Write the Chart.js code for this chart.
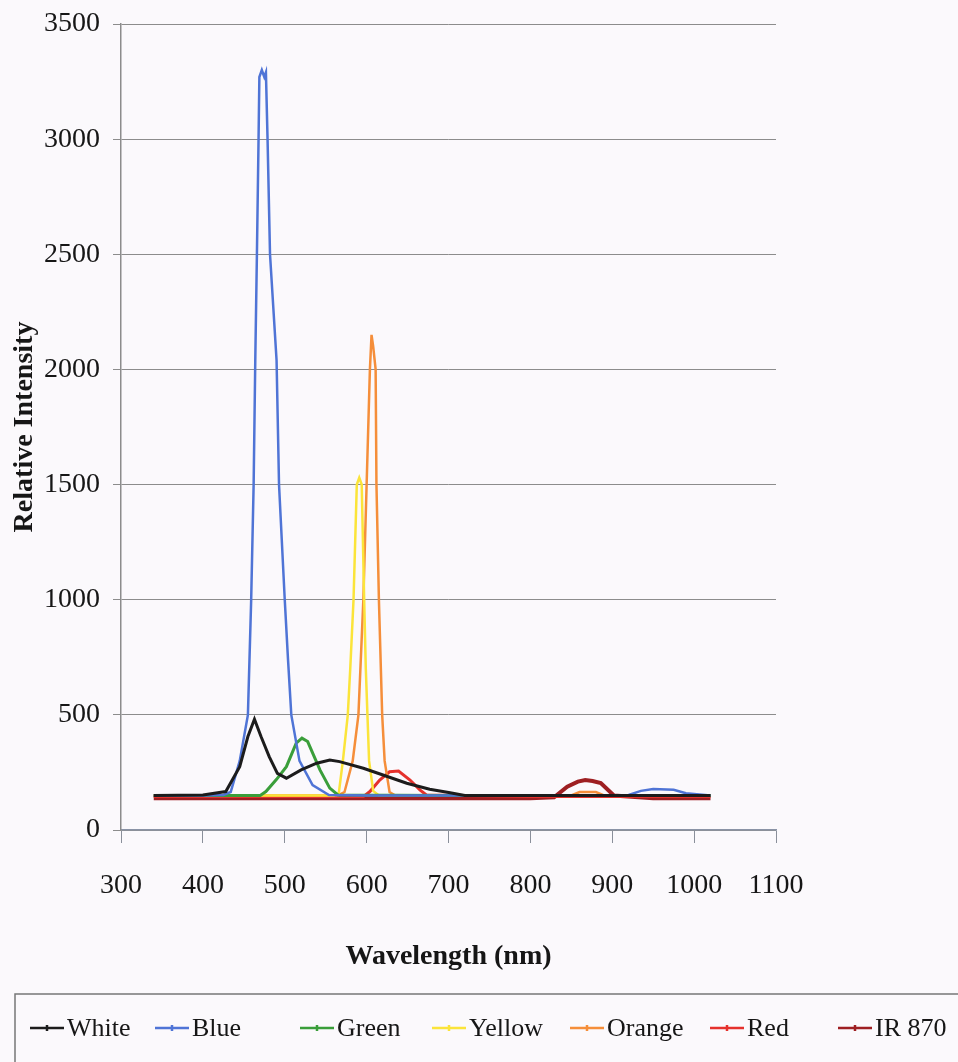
<!DOCTYPE html>
<html>
<head>
<meta charset="utf-8">
<script src="https://cdn.jsdelivr.net/npm/chart.js@4.4.1/dist/chart.umd.min.js"></script>
<style>
  html, body { margin: 0; padding: 0; background: #fbf9fc; }
  #wrap { width: 958px; height: 1062px; }
</style>
</head>
<body>
<div id="wrap"><canvas id="mycanvas" width="958" height="1062"></canvas></div>
<script>
// Series names and colours (legend order = draw order)
var seriesNames = ['White', 'Blue', 'Green', 'Yellow', 'Orange', 'Red', 'IR 870'];
var colors = ['#1c1c1c', '#4f74d6', '#3a9e3a', '#fbe43a', '#f58e3a', '#e5312c', '#9e1f22'];
var widths = [3, 2.5, 3, 2.5, 2.5, 3, 4];

// Wavelength (nm) / relative intensity
var whiteNm  = [340, 400, 428, 445, 455, 463, 471, 481, 491, 502, 520, 539, 555, 567, 596, 620, 649, 677, 702, 720, 800, 900, 1020];
var whiteVal = [150, 152, 167, 275, 406, 481, 406, 319, 246, 225, 261, 290, 304, 297, 268, 239, 203, 177, 162, 150, 150, 150, 150];

var blueNm  = [340, 400, 425, 434, 445, 455, 459, 462, 464, 466, 468, 469, 472, 475, 477, 479, 482, 490, 493, 500, 504, 508, 518, 534, 554, 600, 700, 800, 920, 935, 950, 975, 990, 1020];
var blueVal = [150, 150, 152, 165, 300, 500, 1000, 1500, 2040, 2500, 3000, 3270, 3300, 3270, 3290, 3000, 2500, 2040, 1500, 1000, 740, 500, 300, 195, 152, 150, 150, 150, 152, 170, 178, 175, 160, 150];

var greenNm  = [340, 470, 477, 490, 502, 514, 521, 528, 543, 555, 565, 700, 1020];
var greenVal = [150, 150, 167, 220, 275, 377, 399, 384, 261, 182, 152, 150, 150];

var yellowNm  = [340, 560, 566, 571, 577, 580, 584, 588, 591, 594, 597, 599, 601, 603, 608, 615, 1020];
var yellowVal = [150, 150, 160, 300, 500, 700, 1000, 1500, 1530, 1500, 1000, 700, 500, 300, 170, 150, 150];

var orangeNm  = [340, 565, 573, 583, 590, 596, 600, 604, 606, 608, 611, 612, 615, 619, 622, 628, 635, 850, 860, 880, 890, 1020];
var orangeVal = [150, 150, 165, 300, 500, 1000, 1500, 2000, 2150, 2100, 2000, 1500, 1000, 500, 300, 165, 150, 150, 165, 165, 150, 150];

var redNm  = [340, 596, 604, 616, 628, 639, 653, 665, 673, 800, 1020];
var redVal = [145, 145, 167, 217, 253, 256, 217, 174, 152, 145, 145];

var irNm  = [340, 400, 500, 600, 700, 800, 829, 845, 858, 867, 876, 886, 902, 950, 1020];
var irVal = [138, 138, 138, 138, 138, 138, 142, 188, 210, 217, 213, 204, 150, 138, 138];

var allNm  = [whiteNm, blueNm, greenNm, yellowNm, orangeNm, redNm, irNm];
var allVal = [whiteVal, blueVal, greenVal, yellowVal, orangeVal, redVal, irVal];

var datasets = [];
for (var i = 0; i < seriesNames.length; i++)
{
  var pts = [];
  for (var j = 0; j < allNm[i].length; j++)
  {
    pts.push({x: allNm[i][j], y: allVal[i][j]});
  }
  datasets.push({
    label: seriesNames[i],
    data: pts,
    borderColor: colors[i],
    backgroundColor: colors[i],
    borderWidth: widths[i],
    pointRadius: 0,
    tension: 0,
    fill: false
  });
}

// Legend drawn in a framed strip under the chart, like the Excel original
var legendBox = {
  id: 'legendBox',
  afterDraw: function(chart)
  {
    var ctx = chart.ctx;
    var starts = [30, 155, 300, 432, 570, 710, 838];
    ctx.save();
    ctx.strokeStyle = '#777';
    ctx.lineWidth = 1.5;
    ctx.strokeRect(15, 994, 960, 80);
    ctx.font = '26px "Liberation Serif"';
    ctx.textBaseline = 'middle';
    ctx.fillStyle = '#161616';
    for (var k = 0; k < seriesNames.length; k++)
    {
      var x0 = starts[k];
      ctx.strokeStyle = colors[k];
      ctx.lineWidth = 2.5;
      ctx.beginPath();
      ctx.moveTo(x0, 1028);
      ctx.lineTo(x0 + 34, 1028);
      ctx.stroke();
      ctx.beginPath();
      ctx.moveTo(x0 + 17, 1025);
      ctx.lineTo(x0 + 17, 1031);
      ctx.stroke();
      ctx.fillText(seriesNames[k], x0 + 37, 1029);
    }
    ctx.restore();
  }
};

function plainTick(value) { return String(value); }

var ctx = document.getElementById('mycanvas');
var chart = new Chart(ctx, {
  type: 'line',
  data: { datasets: datasets },
  plugins: [legendBox],
  options: {
    responsive: false,
    animation: false,
    layout: { padding: { top: 24, right: 182, bottom: 72, left: 0 } },
    plugins: {
      legend: { display: false },
      tooltip: { enabled: false }
    },
    scales: {
      x: {
        type: 'linear',
        min: 300,
        max: 1100,
        ticks: {
          stepSize: 100,
          padding: 26,
          color: '#161616',
          font: { family: 'Liberation Serif', size: 28 },
          callback: plainTick
        },
        grid: { drawOnChartArea: false, drawTicks: true, tickLength: 13, color: '#8a8f9a' },
        border: { color: '#8a93a6', width: 1.5 },
        title: {
          display: true,
          text: 'Wavelength (nm)',
          color: '#161616',
          font: { family: 'Liberation Serif', size: 28, weight: 'bold' },
          padding: { top: 10, bottom: 16 }
        },
        afterFit: function(scale) { scale.height = 160; }
      },
      y: {
        min: 0,
        max: 3500,
        ticks: {
          stepSize: 500,
          padding: 13,
          color: '#161616',
          font: { family: 'Liberation Serif', size: 28 },
          callback: plainTick
        },
        grid: { color: '#8c8c8c', tickLength: 8 },
        border: { color: '#8c8c8c', width: 1.5 },
        title: {
          display: true,
          text: 'Relative Intensity',
          color: '#161616',
          font: { family: 'Liberation Serif', size: 28, weight: 'bold' },
          padding: { top: 8, bottom: 0 }
        },
        afterFit: function(scale) { scale.width = 121; scale.paddingTop = 0; scale.paddingBottom = 0; }
      }
    }
  }
});
</script>
</body>
</html>
